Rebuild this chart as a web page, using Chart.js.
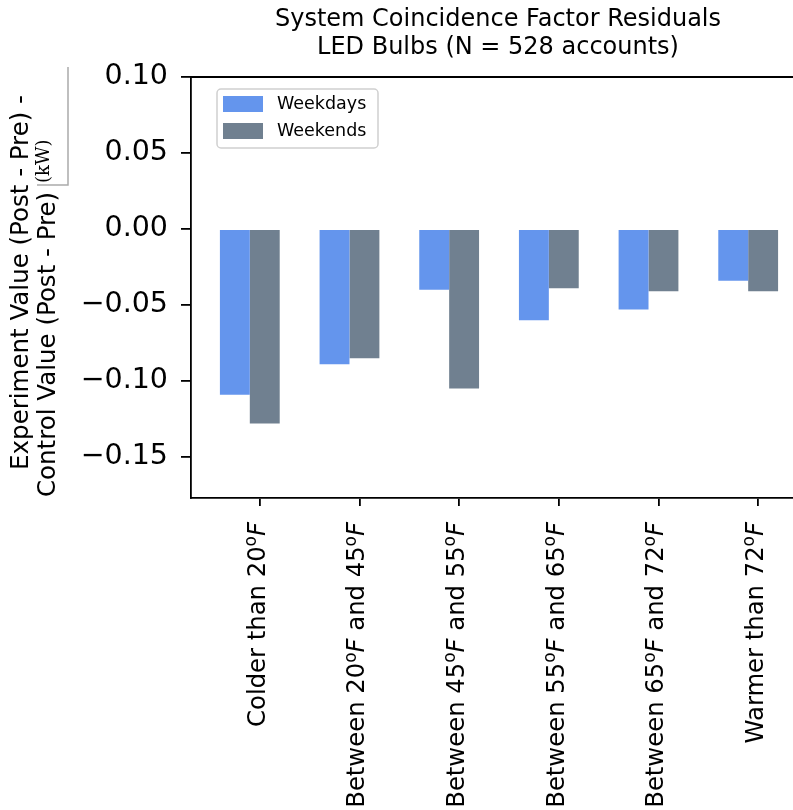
<!DOCTYPE html>
<html>
<head>
<meta charset="utf-8">
<script src="https://cdn.jsdelivr.net/npm/chart.js@4"></script>
<style>
  html, body { margin: 0; padding: 0; background: #fff; overflow: hidden; }
  #wrap { width: 793px; height: 810px; overflow: hidden; }
</style>
</head>
<body>
<div id="wrap"><canvas id="chart" width="830" height="810"></canvas></div>
<script>
const categories = [
  "Colder than 20°F",
  "Between 20°F and 45°F",
  "Between 45°F and 55°F",
  "Between 55°F and 65°F",
  "Between 65°F and 72°F",
  "Warmer than 72°F",
];
const weekdays = [-0.109, -0.089, -0.040, -0.060, -0.053, -0.034];
const weekends = [-0.128, -0.085, -0.105, -0.039, -0.041, -0.041];
const yTicks = [0.10, 0.05, 0.00, -0.05, -0.10, -0.15];
const titleLines = ["System Coincidence Factor Residuals", "LED Bulbs (N = 528 accounts)"];

const FONT = "'DejaVu Sans', sans-serif";
const blue = "#6495ED";
const grey = "#708090";
const xLabelSize = 24.3;

// matplotlib-style layout: bar i sits at i +/- 0.15, ticks at i + 0.25
function toPoints(values) {
  return values.map((v, i) => ({ x: i + 0.15, y: v }));
}

// split "20°F" into normal text, a raised small "o" and an italic "F"
function labelParts(label) {
  const parts = [];
  label.split("°F").forEach((chunk, k, arr) => {
    if (chunk) parts.push({ text: chunk, font: xLabelSize + "px " + FONT, rise: 0 });
    if (k < arr.length - 1) {
      parts.push({ text: "o", font: (xLabelSize * 0.7).toFixed(1) + "px " + FONT, rise: xLabelSize * 0.36 });
      parts.push({ text: "F", font: "oblique " + xLabelSize + "px " + FONT, rise: 0 });
    }
  });
  return parts;
}

const extras = {
  id: "extras",
  afterDraw(chart) {
    const ctx = chart.ctx;
    const a = chart.chartArea;
    ctx.save();

    // top and right spines
    ctx.strokeStyle = "#000";
    ctx.lineWidth = 1.8;
    ctx.beginPath();
    ctx.moveTo(a.left, a.top);
    ctx.lineTo(a.right, a.top);
    ctx.lineTo(a.right, a.bottom);
    ctx.stroke();

    // x tick labels (rotated, mixed fonts)
    const xs = chart.scales.x;
    ctx.fillStyle = "#000";
    ctx.textBaseline = "alphabetic";
    ctx.textAlign = "left";
    xs.ticks.forEach((t, i) => {
      const px = xs.getPixelForValue(t.value);
      const parts = labelParts(categories[i]);
      let total = 0;
      parts.forEach((p) => { ctx.font = p.font; p.w = ctx.measureText(p.text).width; total += p.w; });
      ctx.save();
      ctx.translate(px + 5, a.bottom + 24);
      ctx.rotate(-Math.PI / 2);
      let cur = -total;
      parts.forEach((p) => {
        ctx.font = p.font;
        ctx.fillText(p.text, cur, -p.rise);
        cur += p.w;
      });
      ctx.restore();
    });

    // title
    ctx.fillStyle = "#000";
    ctx.font = "24px " + FONT;
    ctx.textAlign = "center";
    ctx.textBaseline = "middle";
    const cx = (a.left + a.right) / 2;
    ctx.fillText(titleLines[0], cx, 20);
    ctx.fillText(titleLines[1], cx, 48);

    // y axis title, two rotated lines plus the odd (kW) fraction
    const cy = (a.top + a.bottom) / 2;
    ctx.save();
    ctx.translate(22, cy - 5);
    ctx.rotate(-Math.PI / 2);
    ctx.font = "24.5px " + FONT;
    ctx.fillText("Experiment Value (Post - Pre) -", 0, 0);
    ctx.restore();

    ctx.save();
    ctx.translate(49, 497);
    ctx.rotate(-Math.PI / 2);
    ctx.font = "24.5px " + FONT;
    ctx.textAlign = "left";
    ctx.fillText("Control Value (Post - Pre)", 0, 0);
    ctx.restore();

    ctx.save();
    ctx.translate(49, 183);
    ctx.rotate(-Math.PI / 2);
    ctx.font = "18px 'DejaVu Serif', serif";
    ctx.textAlign = "left";
    ctx.textBaseline = "alphabetic";
    ctx.fillText("(kW)", 0, 0);
    ctx.restore();

    ctx.strokeStyle = "#aaa";
    ctx.lineWidth = 1.5;
    ctx.beginPath();
    ctx.moveTo(68, 67);
    ctx.lineTo(68, 185);
    ctx.lineTo(37, 185);
    ctx.stroke();

    // legend box in upper left of the plot
    const lx = 217, ly = 89, lw = 161, lh = 59;
    ctx.fillStyle = "rgba(255,255,255,0.8)";
    ctx.strokeStyle = "#d0d0d0";
    ctx.lineWidth = 1.5;
    ctx.beginPath();
    ctx.roundRect(lx, ly, lw, lh, 4);
    ctx.fill();
    ctx.stroke();
    const items = [["Weekdays", blue], ["Weekends", grey]];
    ctx.font = "17.5px " + FONT;
    ctx.textAlign = "left";
    ctx.textBaseline = "middle";
    items.forEach(([label, color], k) => {
      const y = ly + 7 + k * 27;
      ctx.fillStyle = color;
      ctx.fillRect(lx + 6, y, 40, 16);
      ctx.fillStyle = "#000";
      ctx.fillText(label, lx + 60, y + 8);
    });

    ctx.restore();
  },
};

new Chart(document.getElementById("chart"), {
  type: "bar",
  data: {
    datasets: [
      { label: "Weekdays", data: toPoints(weekdays), backgroundColor: blue, borderWidth: 0 },
      { label: "Weekends", data: toPoints(weekends), backgroundColor: grey, borderWidth: 0 },
    ],
  },
  options: {
    responsive: false,
    animation: false,
    devicePixelRatio: 1,
    layout: { padding: { left: 0, top: 77, right: 25, bottom: 0 } },
    categoryPercentage: 0.6,
    barPercentage: 1.0,
    plugins: {
      legend: { display: false },
      title: { display: false },
      tooltip: { enabled: false },
    },
    scales: {
      x: {
        type: "linear",
        offset: false,
        min: -0.44,
        max: 5.72,
        afterBuildTicks: (scale) => {
          scale.ticks = categories.map((c, i) => ({ value: i + 0.25 }));
        },
        afterFit: (scale) => {
          scale.height = 312;
        },
        grid: { offset: false, drawOnChartArea: false, drawTicks: true, tickLength: 8, color: "#000", lineWidth: 1.8 },
        border: { display: true, color: "#000", width: 1.8 },
        ticks: { display: false, autoSkip: false },
      },
      y: {
        min: -0.177,
        max: 0.10,
        afterBuildTicks: (scale) => {
          scale.ticks = yTicks.map((v) => ({ value: v }));
        },
        afterFit: (scale) => {
          scale.width = 191;
        },
        grid: { drawOnChartArea: false, drawTicks: true, tickLength: 10, color: "#000", lineWidth: 1.8 },
        border: { display: true, color: "#000", width: 1.8 },
        ticks: {
          padding: 13,
          color: "#000",
          font: { family: FONT, size: 28.5 },
          callback: (v) => (v < -1e-9 ? "−" : "") + Math.abs(v).toFixed(2),
        },
      },
    },
  },
  plugins: [extras],
});
</script>
</body>
</html>
